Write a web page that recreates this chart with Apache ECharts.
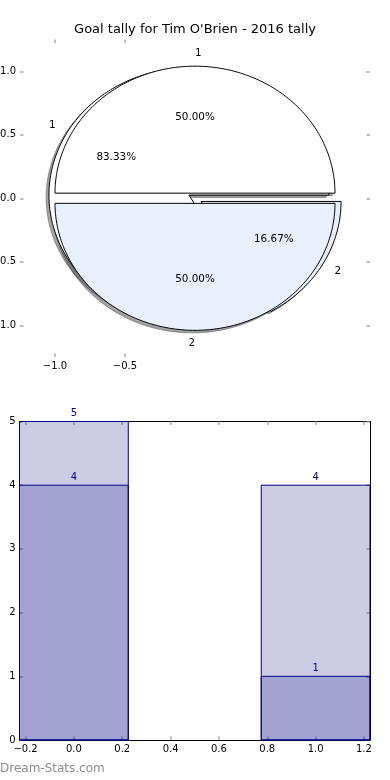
<!DOCTYPE html>
<html><head><meta charset="utf-8">
<script src="https://cdn.jsdelivr.net/npm/echarts@6/dist/echarts.min.js"></script>
<style>html,body{margin:0;padding:0;background:#fff}#c{width:390px;height:780px}</style>
</head><body><div id="c"></div>
<script>
// ---- data ----
const chartTitle = "Goal tally for Tim O'Brien - 2016 tally";
const pieLabels = ['1', '2'];
const pieOuterValues = [5, 1];      // 83.33% / 16.67%
const pieInnerValues = [4, 4];      // 50.00% / 50.00%
const pieOuterExplode = [0.05, 0.05];
const pieInnerExplode = [0.04, 0.04];
const pieColors = ['#ffffff', '#eaeffc'];
const pieXTicks = [-1, -0.5];
const pieYTicks = [-1, -0.5, 0, 0.5, 1];
const barCategories = [0, 1];
const barValuesA = [5, 4];
const barValuesB = [4, 1];
const barXTicks = [-0.2, 0, 0.2, 0.4, 0.6, 0.8, 1.0, 1.2];
const watermark = 'Dream-Stats.com';

// ---- build wedges ----
function buildWedges(values, explode) {
  const sum = values.reduce((a, b) => a + b, 0);
  let cum = 0;
  return values.map((v, i) => {
    const w = { t1: 360 * cum / sum, t2: 360 * (cum + v) / sum, explode: explode[i],
      color: pieColors[i % pieColors.length], label: pieLabels[i],
      pct: (100 * v / sum).toFixed(2) + '%' };
    cum += v;
    return w;
  });
}
const wedges = buildWedges(pieOuterValues, pieOuterExplode).concat(buildWedges(pieInnerValues, pieInnerExplode));

const FONT = 'DejaVu Sans';
const fmt1 = v => (v < 0 ? '\u2212' : '') + Math.abs(v).toFixed(1);
const fmt0 = v => String(Math.round(v));
const tickStyle = { color: '#aaaaaa', width: 1.5 };

function wedgePts(api, w, dx, dy) {
  const mid = (w.t1 + w.t2) / 2 * Math.PI / 180;
  const cx = w.explode * Math.cos(mid) + dx, cy = w.explode * Math.sin(mid) + dy;
  const pts = [api.coord([cx, cy])];
  const n = Math.max(4, Math.ceil(w.t2 - w.t1));
  for (let i = 0; i <= n; i++) {
    const t = (w.t1 + (w.t2 - w.t1) * i / n) * Math.PI / 180;
    pts.push(api.coord([cx + Math.cos(t), cy + Math.sin(t)]));
  }
  return pts;
}
function shade(hex) {
  const r = parseInt(hex.slice(1, 3), 16), g = parseInt(hex.slice(3, 5), 16), b = parseInt(hex.slice(5, 7), 16);
  return 'rgba(' + Math.round(r * 0.3) + ',' + Math.round(g * 0.3) + ',' + Math.round(b * 0.3) + ',0.5)';
}

const placeholder = wedges.map(() => [0, 0]);

function valAxis(grid, pos, min, max, ticks, showLabel, line, extra) {
  return Object.assign({
    gridIndex: grid, type: 'value', position: pos, min: min, max: max,
    axisLine: { show: line, onZero: false, lineStyle: { color: '#000', width: 1 } },
    splitLine: { show: false },
    axisTick: { show: true, inside: true, length: 3.5, lineStyle: tickStyle, customValues: ticks },
    axisLabel: { show: showLabel, customValues: ticks, formatter: fmt1, fontFamily: FONT, fontSize: 10, color: '#000', margin: 4 }
  }, extra || {});
}

const chart = echarts.init(document.getElementById('c'), null, { renderer: 'canvas' });
chart.setOption({
  animation: false,
  backgroundColor: '#fff',
  title: { text: chartTitle, left: 'center', top: 23, padding: 0,
    textStyle: { fontFamily: FONT, fontSize: 13, fontWeight: 'normal', color: '#000' } },
  graphic: [{ type: 'text', left: 0, top: 763, style: { text: watermark, fill: '#8c8c8c', font: '12px "DejaVu Sans"' } }],
  grid: [
    { left: 20, top: 39.5, width: 350, height: 317.5, show: false, containLabel: false, outerBoundsMode: 'none' },
    { left: 19.5, top: 421.5, width: 350.5, height: 318.5, show: false, containLabel: false, outerBoundsMode: 'none' }
  ],
  xAxis: [
    valAxis(0, 'bottom', -1.25, 1.25, pieXTicks, true, false, {}),
    valAxis(0, 'top', -1.25, 1.25, pieXTicks, false, false, {}),
    valAxis(1, 'bottom', -0.225, 1.225, barXTicks, true, true, {}),
    valAxis(1, 'top', -0.225, 1.225, barXTicks, false, true, {})
  ],
  yAxis: [
    valAxis(0, 'left', -1.25, 1.25, pieYTicks, true, false, {}),
    valAxis(0, 'right', -1.25, 1.25, pieYTicks, false, false, {}),
    valAxis(1, 'left', 0, 5, null, true, true, { interval: 1 }),
    valAxis(1, 'right', 0, 5, null, false, true, { interval: 1 })
  ],
  series: [
    { type: 'custom', xAxisIndex: 0, yAxisIndex: 0, z: 1, clip: false, silent: true, data: placeholder,
      renderItem: (params, api) => {
        const w = wedges[params.dataIndex];
        const c = shade(w.color);
        return { type: 'polygon', shape: { points: wedgePts(api, w, -0.02, -0.02) },
          style: { fill: c, stroke: c, lineWidth: 1 } };
      } },
    { type: 'custom', xAxisIndex: 0, yAxisIndex: 0, z: 2, clip: false, silent: true, data: placeholder,
      renderItem: (params, api) => {
        const w = wedges[params.dataIndex];
        return { type: 'polygon', shape: { points: wedgePts(api, w, 0, 0) },
          style: { fill: w.color, stroke: '#000', lineWidth: 1, lineJoin: 'miter' } };
      } },
    { type: 'custom', xAxisIndex: 0, yAxisIndex: 0, z: 3, clip: false, silent: true, data: placeholder,
      renderItem: (params, api) => {
        const w = wedges[params.dataIndex];
        const mid = (w.t1 + w.t2) / 2 * Math.PI / 180;
        const cx = w.explode * Math.cos(mid), cy = w.explode * Math.sin(mid);
        const lx = cx + 1.1 * Math.cos(mid), ly = cy + 1.1 * Math.sin(mid);
        const px = cx + 0.6 * Math.cos(mid), py = cy + 0.6 * Math.sin(mid);
        const lp = api.coord([lx, ly]), pp = api.coord([px, py]);
        return { type: 'group', children: [
          { type: 'text', x: lp[0], y: lp[1], style: { text: w.label, fill: '#000', fontFamily: FONT, fontSize: 10.4,
            align: Math.cos(mid) > 0 ? 'left' : 'right', verticalAlign: 'middle' } },
          { type: 'text', x: pp[0], y: pp[1], style: { text: w.pct, fill: '#000', fontFamily: FONT, fontSize: 10.4,
            align: 'center', verticalAlign: 'middle' } }
        ] };
      } },
    { type: 'custom', xAxisIndex: 2, yAxisIndex: 2, z: 2, clip: false, silent: true,
      data: barCategories.map((c, i) => [c, barValuesA[i]]).concat(barCategories.map((c, i) => [c, barValuesB[i]])),
      renderItem: (params, api) => {
        const x = api.value(0), v = api.value(1);
        const p0 = api.coord([x - 0.225, v]), p1 = api.coord([x + 0.225, 0]);
        const pt = api.coord([x, v]);
        return { type: 'group', children: [
          { type: 'rect', shape: { x: p0[0], y: p0[1], width: p1[0] - p0[0], height: p1[1] - p0[1] },
            style: { fill: 'rgba(0,0,128,0.2)', stroke: '#000080', lineWidth: 1 } },
          { type: 'text', x: pt[0], y: pt[1] - 3, style: { text: String(v), fill: '#000080', fontFamily: FONT, fontSize: 10,
            align: 'center', verticalAlign: 'bottom' } }
        ] };
      } }
  ]
});
// integer labels on bar y axis
chart.setOption({ yAxis: [{}, {}, { axisLabel: { formatter: fmt0 } }, {}] });
</script>
</body></html>
